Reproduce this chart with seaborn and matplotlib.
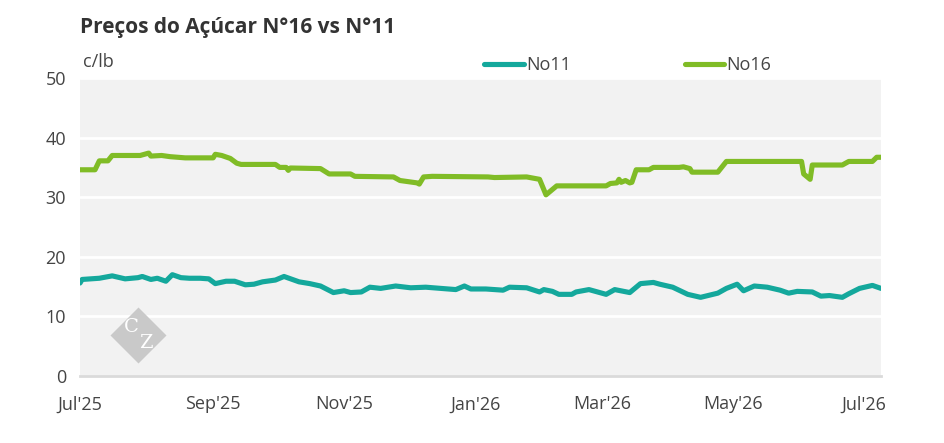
import numpy as np
import pandas as pd
import matplotlib
matplotlib.use("Agg")
import matplotlib.pyplot as plt
from matplotlib.patches import Polygon
import seaborn as sns

# days counted from 1 Jul 2025, values in c/lb
start = pd.Timestamp("2025-07-01")

no16_days = [0, 7, 9, 13, 15, 28, 32, 33, 38, 42, 49, 62, 63, 66, 70, 73, 75, 91,
             93, 96, 97, 98, 112, 116, 126, 128, 146, 149, 157, 158, 160, 164,
             190, 193, 208, 214, 217, 219, 222, 245, 247, 250, 251, 252, 254, 256,
             257, 259, 265, 267, 279, 281, 284, 285, 297, 301, 336, 337, 340, 341,
             355, 358, 369, 371, 373]
no16_vals = [34.6, 34.6, 36.1, 36.1, 37.0, 37.0, 37.4, 36.9, 37.0, 36.8, 36.6, 36.6,
             37.2, 37.0, 36.5, 35.7, 35.5, 35.5, 35.0, 35.0, 34.5, 34.9, 34.8, 33.9,
             33.9, 33.5, 33.4, 32.8, 32.4, 32.2, 33.4, 33.5, 33.4, 33.3, 33.4, 33.0,
             30.4, 31.0, 31.9, 31.9, 32.3, 32.4, 33.0, 32.5, 32.8, 32.4, 32.5, 34.6,
             34.6, 35.0, 35.0, 35.1, 34.8, 34.2, 34.2, 36.0, 36.0, 33.9, 33.0, 35.4,
             35.4, 36.0, 36.0, 36.7, 36.7]

no11_days = [0, 1, 5, 9, 15, 21, 27, 29, 33, 36, 40, 43, 47, 51, 56, 60, 63, 68, 72,
             77, 81, 85, 91, 95, 102, 107, 112, 118, 123, 126, 131, 135, 140, 147,
             154, 161, 168, 175, 179, 182, 189, 197, 200, 208, 214, 216, 220, 223,
             229, 231, 237, 245, 249, 256, 261, 267, 270, 276, 283, 289, 297, 301,
             306, 309, 314, 320, 326, 330, 334, 341, 345, 349, 355, 358, 363, 369,
             373]
no11_vals = [15.6, 16.2, 16.3, 16.4, 16.8, 16.3, 16.5, 16.7, 16.2, 16.4, 15.9, 17.0,
             16.5, 16.4, 16.4, 16.3, 15.5, 15.9, 15.9, 15.3, 15.4, 15.8, 16.1, 16.7,
             15.8, 15.5, 15.1, 14.0, 14.3, 14.0, 14.1, 14.9, 14.7, 15.1, 14.8, 14.9,
             14.7, 14.5, 15.1, 14.6, 14.6, 14.4, 14.9, 14.8, 14.1, 14.5, 14.2, 13.7,
             13.7, 14.1, 14.5, 13.7, 14.5, 14.0, 15.5, 15.7, 15.4, 14.9, 13.7, 13.2,
             13.9, 14.7, 15.4, 14.3, 15.1, 14.9, 14.4, 13.9, 14.2, 14.1, 13.4, 13.5,
             13.2, 13.8, 14.7, 15.2, 14.7]

tick_dates = ["2025-07-01", "2025-09-01", "2025-11-01", "2026-01-01",
              "2026-03-01", "2026-05-01", "2026-07-01"]
tick_labels = ["Jul'25", "Sep'25", "Nov'25", "Jan'26", "Mar'26", "May'26", "Jul'26"]

no11 = pd.DataFrame({"date": start + pd.to_timedelta(no11_days, unit="D"), "price": no11_vals})
no16 = pd.DataFrame({"date": start + pd.to_timedelta(no16_days, unit="D"), "price": no16_vals})

sns.set_theme(style="white")
plt.rcParams["font.family"] = ["Open Sans", "DejaVu Sans"]

teal = "#14A89C"
green = "#80BC26"
txt = "#444444"

fig = plt.figure(figsize=(9.45, 4.43), dpi=100)
ax = fig.add_axes([80 / 945, 1 - 376 / 443, 801 / 945, 298 / 443])
ax.set_facecolor("#F2F2F2")

sns.lineplot(data=no11, x="date", y="price", ax=ax, color=teal, lw=3.7, label="No11")
sns.lineplot(data=no16, x="date", y="price", ax=ax, color=green, lw=3.7, label="No16")

ax.set_ylim(0, 50)
ax.set_yticks([0, 10, 20, 30, 40, 50])
ax.set_xlim(start, start + pd.Timedelta(days=373))
ax.set_xticks(pd.to_datetime(tick_dates))
ax.set_xticklabels(tick_labels)
ax.set_xlabel("")
ax.set_ylabel("")
ax.grid(axis="y", color="white", lw=2)
ax.set_axisbelow(True)

for s in ["top", "right", "left"]:
    ax.spines[s].set_visible(False)
ax.spines["bottom"].set_color("#DADADA")
ax.spines["bottom"].set_linewidth(2)
ax.tick_params(axis="x", length=6, width=1.5, color="#DADADA", labelsize=13,
               labelcolor=txt, pad=8)
ax.tick_params(axis="y", length=0, labelsize=13, labelcolor=txt, pad=10)

ax.legend(loc="center left", bbox_to_anchor=(484 / 945, 1 - 65 / 443),
          bbox_transform=fig.transFigure, ncol=2, frameon=False, fontsize=13,
          handlelength=2.2, handletextpad=0.12, columnspacing=6.3,
          borderpad=0, borderaxespad=0, labelcolor=txt)

fig.text(80 / 945, 1 - 27 / 443, "Preços do Açúcar N°16 vs N°11", fontsize=15,
         fontweight="bold", color="#333333", ha="left", va="center")
fig.text(83 / 945, 1 - 62 / 443, "c/lb", fontsize=13, color=txt, ha="left", va="center")

# CZ watermark
cx, cy, r = 138.5, 335.5, 28
pts = [((cx - r) / 945, 1 - cy / 443), (cx / 945, 1 - (cy - r) / 443),
       ((cx + r) / 945, 1 - cy / 443), (cx / 945, 1 - (cy + r) / 443)]
fig.patches.append(Polygon(pts, closed=True, transform=fig.transFigure,
                           facecolor="#C9C9C9", edgecolor="none", zorder=3))
fig.text((cx - 7) / 945, 1 - (cy - 8) / 443, "C", fontsize=14, family="DejaVu Serif",
         color="white", ha="center", va="center", zorder=4)
fig.text((cx + 7) / 945, 1 - (cy + 8) / 443, "Z", fontsize=14, family="DejaVu Serif",
         color="white", ha="center", va="center", zorder=4)

fig.savefig("out.png", dpi=100)
